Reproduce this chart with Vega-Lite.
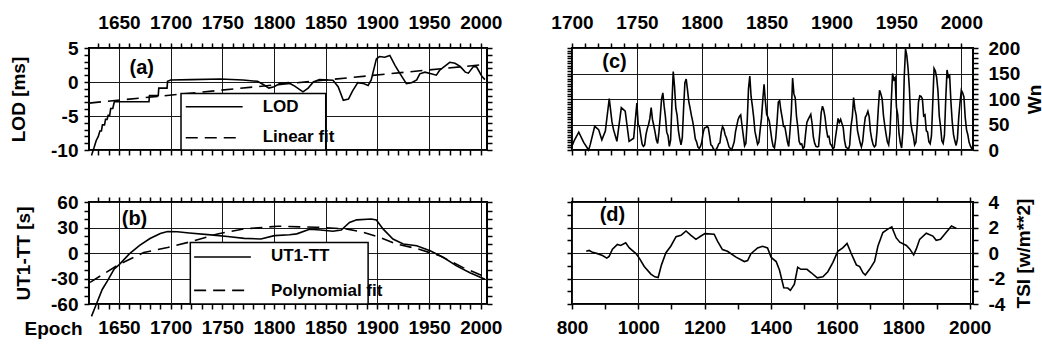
{
"$schema": "https://vega.github.io/schema/vega-lite/v6.json",
"columns": 2,
"spacing": {"row": 52, "column": 85},
"bounds": "flush",
"padding": {"left": 8, "top": 12, "right": 14, "bottom": 5},
"config": {
  "font": "Liberation Sans Narrow, Liberation Sans, sans-serif",
  "view": {"stroke": "black", "strokeWidth": 2},
  "axis": {"domain": false, "tickColor": "black", "tickWidth": 1.5, "tickSize": 5, "gridWidth": 1, "gridOpacity": 1,
    "labelFont": "Liberation Sans Narrow, Liberation Sans, sans-serif", "labelFontWeight": "bold", "labelFontSize": 19, "labelColor": "black",
    "titleFont": "Liberation Sans Narrow, Liberation Sans, sans-serif", "titleFontWeight": "bold", "titleFontSize": 19, "titleColor": "black",
    "labelFlush": false, "labelOverlap": false, "labelBound": false},
  "axisTop": {"labelPadding": 11},
  "axisBottom": {"labelPadding": 9},
  "axisLeft": {"labelPadding": 6, "titlePadding": 18},
  "axisRight": {"labelPadding": 10, "titlePadding": 20, "titleAngle": 270, "titleBaseline": "alphabetic"},
  "text": {"font": "Liberation Sans Narrow, Liberation Sans, sans-serif", "fontWeight": "bold", "color": "black"}
},
"datasets": {
  "lod": [{"x":1623.4,"y":-10.8},{"x":1626,"y":-9.6},{"x":1628,"y":-8.6},{"x":1630,"y":-8.0},{"x":1631.5,"y":-7.2},{"x":1633,"y":-7.2},{"x":1634,"y":-6.3},{"x":1636,"y":-6.3},{"x":1637,"y":-5.5},{"x":1638.5,"y":-5.5},{"x":1639.5,"y":-4.9},{"x":1641,"y":-4.9},{"x":1642,"y":-3.9},{"x":1644,"y":-3.9},{"x":1645.5,"y":-2.9},{"x":1679,"y":-2.9},{"x":1679.5,"y":-2.0},{"x":1688,"y":-2.0},{"x":1688.5,"y":-0.9},{"x":1696.5,"y":-0.9},{"x":1697,"y":0.1},{"x":1700,"y":0.3},{"x":1720,"y":0.35},{"x":1748,"y":0.45},{"x":1770,"y":0.3},{"x":1784,"y":0.1},{"x":1790,"y":-0.4},{"x":1795,"y":-0.9},{"x":1800,"y":-0.7},{"x":1806,"y":-0.2},{"x":1814,"y":-0.1},{"x":1820,"y":-0.6},{"x":1828,"y":-1.45},{"x":1833,"y":-0.9},{"x":1838,"y":0},{"x":1844,"y":0.35},{"x":1857,"y":0.25},{"x":1862,"y":-0.7},{"x":1867,"y":-2.7},{"x":1872,"y":-2.5},{"x":1876,"y":-1.3},{"x":1881,"y":-0.1},{"x":1886,"y":-0.2},{"x":1891,"y":-0.5},{"x":1894,"y":0.3},{"x":1899,"y":3.4},{"x":1902,"y":3.75},{"x":1907,"y":3.65},{"x":1912,"y":3.9},{"x":1917,"y":2.45},{"x":1922,"y":1.2},{"x":1928,"y":-0.25},{"x":1933,"y":-0.1},{"x":1938,"y":0.3},{"x":1941,"y":1.2},{"x":1946,"y":1.45},{"x":1952,"y":1.2},{"x":1957,"y":1.0},{"x":1960,"y":1.7},{"x":1964,"y":2.2},{"x":1970,"y":2.9},{"x":1975,"y":2.75},{"x":1980,"y":2.3},{"x":1985,"y":1.45},{"x":1988,"y":1.3},{"x":1993,"y":2.3},{"x":1996,"y":2.2},{"x":2001,"y":0.85},{"x":2004,"y":0.35}],
  "lodfit": [{"x":1621,"y":-3.1},{"x":2006,"y":2.61}],
  "ut1": [{"x":1623.4,"y":-74.6},{"x":1627.3,"y":-62.7},{"x":1633.8,"y":-42.9},{"x":1638.7,"y":-33},{"x":1645.2,"y":-19.1},{"x":1650,"y":-14},{"x":1660,"y":-1},{"x":1670,"y":9},{"x":1680,"y":17},{"x":1690,"y":23},{"x":1697,"y":25.2},{"x":1706.5,"y":25},{"x":1718,"y":23.6},{"x":1738.8,"y":21.3},{"x":1755,"y":19.5},{"x":1771.2,"y":17.2},{"x":1787.3,"y":16.5},{"x":1800.3,"y":20.4},{"x":1815,"y":21.5},{"x":1822,"y":22.5},{"x":1834.3,"y":28},{"x":1845,"y":27},{"x":1857,"y":25.6},{"x":1865,"y":27},{"x":1873,"y":36},{"x":1880,"y":39},{"x":1894,"y":40},{"x":1899,"y":38.8},{"x":1905.4,"y":28.4},{"x":1915,"y":16.5},{"x":1925,"y":10.5},{"x":1938,"y":8.5},{"x":1951,"y":2.6},{"x":1964,"y":-5.3},{"x":1976.5,"y":-15.2},{"x":1989.5,"y":-23.2},{"x":2004,"y":-31}],
  "poly": [{"x":1622,"y":-34.5},{"x":1650,"y":-13.5},{"x":1674,"y":0.6},{"x":1697,"y":6.5},{"x":1719.4,"y":13.3},{"x":1745.3,"y":22.4},{"x":1771.2,"y":28.4},{"x":1803.5,"y":31.5},{"x":1840.7,"y":30.3},{"x":1869.8,"y":28.4},{"x":1886,"y":24.4},{"x":1902.2,"y":18.4},{"x":1918.3,"y":10.5},{"x":1937.7,"y":5.4},{"x":1960.4,"y":-3.3},{"x":1983,"y":-17.2},{"x":2004,"y":-27.9}],
  "wn": [{"x":1700,"y":8},{"x":1702,"y":20},{"x":1705.2,"y":35},{"x":1709,"y":15},{"x":1712.8,"y":0},{"x":1714,"y":10},{"x":1717.5,"y":46.5},{"x":1720.5,"y":40},{"x":1723,"y":20},{"x":1725.7,"y":37},{"x":1728.7,"y":101},{"x":1730.8,"y":55},{"x":1732,"y":40},{"x":1734.6,"y":17},{"x":1738,"y":83},{"x":1741,"y":76},{"x":1744,"y":17},{"x":1747.5,"y":23},{"x":1750,"y":92},
    {"x":1751,"y":50},{"x":1752,"y":45},{"x":1753,"y":28},{"x":1754,"y":12},{"x":1755,"y":7},{"x":1756,"y":10},{"x":1757,"y":30},{"x":1758,"y":42},{"x":1759,"y":50},{"x":1760,"y":62},{"x":1761,"y":83},{"x":1762,"y":60},{"x":1763,"y":48},{"x":1764,"y":35},{"x":1765,"y":20},{"x":1766,"y":13},{"x":1767,"y":35},{"x":1768,"y":65},{"x":1769,"y":100},{"x":1770,"y":112},{"x":1771,"y":86},{"x":1772,"y":65},{"x":1773,"y":35},{"x":1774,"y":28},{"x":1775,"y":7},{"x":1776,"y":20},{"x":1777,"y":90},{"x":1778,"y":154},{"x":1779,"y":125},{"x":1780,"y":82},{"x":1781,"y":68},{"x":1782,"y":38},{"x":1783,"y":22},{"x":1784,"y":10},{"x":1785,"y":24},{"x":1786,"y":82},{"x":1787,"y":132},{"x":1788,"y":139},{"x":1789,"y":118},{"x":1790,"y":95},{"x":1791,"y":82},{"x":1792,"y":68},{"x":1793,"y":56},{"x":1794,"y":41},{"x":1795,"y":22},{"x":1796,"y":16},{"x":1797,"y":6},{"x":1798,"y":3},{"x":1799,"y":7},
    {"x":1800,"y":15},{"x":1801,"y":33},{"x":1802,"y":43},{"x":1803,"y":44},{"x":1804,"y":46},{"x":1805,"y":44},{"x":1806,"y":28},{"x":1807,"y":10},{"x":1808,"y":8},{"x":1809,"y":2},{"x":1810,"y":0},{"x":1811,"y":1},{"x":1812,"y":5},{"x":1813,"y":12},{"x":1814,"y":14},{"x":1815,"y":35},{"x":1816,"y":46},{"x":1817,"y":41},{"x":1818,"y":30},{"x":1819,"y":24},{"x":1820,"y":15},{"x":1821,"y":6},{"x":1822,"y":3},{"x":1823,"y":0},{"x":1824,"y":8},{"x":1825,"y":16},{"x":1826,"y":36},{"x":1827,"y":48},{"x":1828,"y":60},{"x":1829,"y":66},{"x":1830,"y":69},{"x":1831,"y":48},{"x":1832,"y":28},{"x":1833,"y":8},{"x":1834,"y":13},{"x":1835,"y":56},{"x":1836,"y":120},{"x":1837,"y":145},{"x":1838,"y":105},{"x":1839,"y":86},{"x":1840,"y":64},{"x":1841,"y":36},{"x":1842,"y":24},{"x":1843,"y":11},{"x":1844,"y":15},{"x":1845,"y":40},{"x":1846,"y":62},{"x":1847,"y":98},{"x":1848,"y":129},{"x":1849,"y":96},
    {"x":1850,"y":70},{"x":1851,"y":64},{"x":1852,"y":57},{"x":1853,"y":39},{"x":1854,"y":20},{"x":1855,"y":7},{"x":1856,"y":4},{"x":1857,"y":23},{"x":1858,"y":55},{"x":1859,"y":94},{"x":1860,"y":97},{"x":1861,"y":77},{"x":1862,"y":63},{"x":1863,"y":46},{"x":1864,"y":46},{"x":1865,"y":31},{"x":1866,"y":16},{"x":1867,"y":7},{"x":1868,"y":38},{"x":1869,"y":74},{"x":1870,"y":141},{"x":1871,"y":110},{"x":1872,"y":102},{"x":1873,"y":66},{"x":1874,"y":45},{"x":1875,"y":17},{"x":1876,"y":11},{"x":1877,"y":12},{"x":1878,"y":3},{"x":1879,"y":6},{"x":1880,"y":32},{"x":1881,"y":54},{"x":1882,"y":60},{"x":1883,"y":65},{"x":1884,"y":70},{"x":1885,"y":52},{"x":1886,"y":25},{"x":1887,"y":13},{"x":1888,"y":7},{"x":1889,"y":6},{"x":1890,"y":7},{"x":1891,"y":36},{"x":1892,"y":73},{"x":1893,"y":86},{"x":1894,"y":78},{"x":1895,"y":64},{"x":1896,"y":42},{"x":1897,"y":26},{"x":1898,"y":27},{"x":1899,"y":12},
    {"x":1900,"y":9},{"x":1901,"y":3},{"x":1902,"y":5},{"x":1903,"y":24},{"x":1904,"y":42},{"x":1905,"y":62},{"x":1906,"y":54},{"x":1907,"y":60},{"x":1908,"y":52},{"x":1909,"y":44},{"x":1910,"y":19},{"x":1911,"y":6},{"x":1912,"y":4},{"x":1913,"y":1},{"x":1914,"y":10},{"x":1915,"y":47},{"x":1916,"y":65},{"x":1917,"y":103},{"x":1918,"y":80},{"x":1919,"y":68},{"x":1920,"y":38},{"x":1921,"y":26},{"x":1922,"y":14},{"x":1923,"y":6},{"x":1924,"y":17},{"x":1925,"y":44},{"x":1926,"y":64},{"x":1927,"y":69},{"x":1928,"y":76},{"x":1929,"y":65},{"x":1930,"y":36},{"x":1931,"y":21},{"x":1932,"y":11},{"x":1933,"y":6},{"x":1934,"y":9},{"x":1935,"y":36},{"x":1936,"y":80},{"x":1937,"y":117},{"x":1938,"y":110},{"x":1939,"y":100},{"x":1940,"y":68},{"x":1941,"y":48},{"x":1942,"y":31},{"x":1943,"y":16},{"x":1944,"y":10},{"x":1945,"y":33},{"x":1946,"y":93},{"x":1947,"y":150},{"x":1948,"y":138},{"x":1949,"y":142},
    {"x":1950,"y":84},{"x":1951,"y":69},{"x":1952,"y":32},{"x":1953,"y":14},{"x":1954,"y":4},{"x":1955,"y":38},{"x":1956,"y":142},{"x":1957,"y":198},{"x":1958,"y":185},{"x":1959,"y":159},{"x":1960,"y":120},{"x":1961,"y":54},{"x":1962,"y":38},{"x":1963,"y":28},{"x":1964,"y":10},{"x":1965,"y":15},{"x":1966,"y":47},{"x":1967,"y":94},{"x":1968,"y":106},{"x":1969,"y":105},{"x":1970,"y":100},{"x":1971,"y":67},{"x":1972,"y":69},{"x":1973,"y":38},{"x":1974,"y":35},{"x":1975,"y":16},{"x":1976,"y":12},{"x":1977,"y":28},{"x":1978,"y":93},{"x":1979,"y":160},{"x":1980,"y":155},{"x":1981,"y":142},{"x":1982,"y":116},{"x":1983,"y":67},{"x":1984,"y":46},{"x":1985,"y":18},{"x":1986,"y":13},{"x":1987,"y":29},{"x":1988,"y":100},{"x":1989,"y":157},{"x":1990,"y":143},{"x":1991,"y":146},{"x":1992,"y":94},{"x":1993,"y":55},{"x":1994,"y":30},{"x":1995,"y":18},{"x":1996,"y":9},{"x":1997,"y":22},{"x":1998,"y":64},{"x":1999,"y":93},{"x":2000,"y":117},{"x":2001,"y":112},{"x":2002,"y":104},{"x":2003,"y":64},{"x":2004,"y":40},{"x":2005,"y":30},{"x":2006,"y":15},{"x":2007,"y":8},{"x":2008,"y":3},{"x":2009,"y":1}],
  "tsi": [{"x":843,"y":0.14},{"x":852,"y":0.2},{"x":862,"y":0.05},{"x":877,"y":-0.05},{"x":892,"y":-0.2},{"x":905,"y":-0.4},{"x":912,"y":-0.27},{"x":922,"y":0.3},{"x":937,"y":0.67},{"x":947,"y":0.59},{"x":962,"y":0.8},{"x":973,"y":0.4},{"x":993,"y":-0.05},{"x":1003,"y":-0.4},{"x":1018,"y":-1.06},{"x":1038,"y":-1.65},{"x":1050,"y":-1.87},{"x":1060,"y":-1.92},{"x":1070,"y":-0.93},{"x":1083,"y":0},{"x":1098,"y":0.53},{"x":1114,"y":1.28},{"x":1129,"y":1.39},{"x":1144,"y":1.73},{"x":1159,"y":1.39},{"x":1174,"y":1.07},{"x":1189,"y":1.33},{"x":1201,"y":1.52},{"x":1229,"y":1.47},{"x":1239,"y":0.93},{"x":1254,"y":0.27},{"x":1269,"y":0.13},{"x":1295,"y":-0.32},{"x":1320,"y":-0.67},{"x":1330,"y":-0.59},{"x":1340,"y":-0.05},{"x":1360,"y":0.4},{"x":1375,"y":0.53},{"x":1390,"y":0.4},{"x":1401,"y":-0.35},{"x":1416,"y":-0.67},{"x":1426,"y":-1.33},{"x":1439,"y":-2.72},{"x":1451,"y":-2.75},{"x":1459,"y":-2.93},{"x":1471,"y":-2.45},{"x":1481,"y":-1.12},{"x":1491,"y":-1.28},{"x":1509,"y":-1.28},{"x":1522,"y":-1.55},{"x":1540,"y":-1.95},{"x":1557,"y":-1.87},{"x":1572,"y":-1.47},{"x":1587,"y":-0.75},{"x":1602,"y":0.13},{"x":1617,"y":0.4},{"x":1630,"y":0.75},{"x":1642,"y":0},{"x":1658,"y":-0.93},{"x":1668,"y":-1.07},{"x":1678,"y":-1.55},{"x":1685,"y":-1.73},{"x":1698,"y":-1.28},{"x":1713,"y":-0.67},{"x":1723,"y":0.53},{"x":1738,"y":1.6},{"x":1753,"y":1.87},{"x":1765,"y":2.05},{"x":1778,"y":1.2},{"x":1789,"y":0.85},{"x":1809,"y":0.59},{"x":1819,"y":0.32},{"x":1831,"y":-0.15},{"x":1839,"y":0.32},{"x":1849,"y":1.07},{"x":1869,"y":1.55},{"x":1889,"y":1.33},{"x":1899,"y":1.0},{"x":1912,"y":1.07},{"x":1930,"y":1.65},{"x":1945,"y":2.12},{"x":1960,"y":1.92}],
  "legA_box": [{"x":1710,"x2":1850,"y":-10,"y2":-1.7}],
  "legA_lines": [{"x":1714.6,"x2":1769.6,"y":-3.65,"s":"solid"},{"x":1714.6,"x2":1769.6,"y":-8.2,"s":"dashed"}],
  "legA_text": [{"x":1789,"y":-3.7,"t":"LOD"},{"x":1789,"y":-8.1,"t":"Linear fit"}],
  "labA": [{"x":1672,"y":2.1,"t":"(a)"}],
  "legB_box": [{"x":1719,"x2":1891,"y":-60,"y2":12.5}],
  "legB_lines": [{"x":1722.7,"x2":1777.6,"y":-4.7,"s":"solid"},{"x":1722.7,"x2":1777.6,"y":-44,"s":"dashed"}],
  "legB_text": [{"x":1797,"y":-4,"t":"UT1-TT"},{"x":1797,"y":-45,"t":"Polynomial fit"}],
  "labB": [{"x":1665,"y":40.3,"t":"(b)"}],
  "labC": [{"x":1732.7,"y":172,"t":"(c)"}],
  "labD": [{"x":922,"y":3.0,"t":"(d)"}]
},
"concat": [
 {
  "width": 398, "height": 102,
  "resolve": {"axis": {"x": "independent", "y": "independent"}},
  "layer": [
   {"data": {"name": "lod"}, "mark": {"type": "line", "color": "black", "strokeWidth": 1.6, "clip": false},
    "encoding": {
     "x": {"field": "x", "type": "quantitative", "scale": {"domain": [1621, 2006], "nice": false, "zero": false},
       "axis": {"orient": "bottom", "values": [1630,1640,1650,1660,1670,1680,1690,1700,1710,1720,1730,1740,1750,1760,1770,1780,1790,1800,1810,1820,1830,1840,1850,1860,1870,1880,1890,1900,1910,1920,1930,1940,1950,1960,1970,1980,1990,2000], "labels": false, "grid": true, "gridColor": {"condition": {"test": "datum.value % 50 === 0", "value": "#1a1a1a"}, "value": "transparent"}, "title": null}},
     "y": {"field": "y", "type": "quantitative", "scale": {"domain": [-10, 5], "nice": false, "zero": false},
       "axis": {"orient": "left", "values": [-10,-9,-8,-7,-6,-5,-4,-3,-2,-1,0,1,2,3,4,5], "labelExpr": "datum.value % 5 === 0 ? '' + datum.value : ''", "grid": true, "gridColor": {"condition": {"test": "datum.value % 5 === 0", "value": "#1a1a1a"}, "value": "transparent"}, "title": "LOD [ms]", "titlePadding": 22}}
    }},
   {"data": {"name": "lodfit"}, "mark": {"type": "line", "color": "black", "strokeWidth": 1.6, "strokeDash": [12, 7], "clip": false},
    "encoding": {
     "x": {"field": "x", "type": "quantitative", "scale": {"domain": [1621, 2006], "nice": false, "zero": false},
       "axis": {"orient": "top", "values": [1630,1640,1650,1660,1670,1680,1690,1700,1710,1720,1730,1740,1750,1760,1770,1780,1790,1800,1810,1820,1830,1840,1850,1860,1870,1880,1890,1900,1910,1920,1930,1940,1950,1960,1970,1980,1990,2000], "labelExpr": "datum.value % 50 === 0 ? '' + datum.value : ''", "grid": false, "title": null}},
     "y": {"field": "y", "type": "quantitative", "scale": {"domain": [-10, 5], "nice": false, "zero": false},
       "axis": {"orient": "right", "values": [-10,-9,-8,-7,-6,-5,-4,-3,-2,-1,0,1,2,3,4,5], "labels": false, "grid": false, "title": null}}
    }},
   {"data": {"name": "legA_box"}, "mark": {"type": "rect", "fill": "white", "stroke": "black", "strokeWidth": 1.5},
    "encoding": {
     "x": {"field": "x", "type": "quantitative", "scale": {"domain": [1621, 2006], "nice": false, "zero": false}, "axis": null},
     "x2": {"field": "x2"},
     "y": {"field": "y", "type": "quantitative", "scale": {"domain": [-10, 5], "nice": false, "zero": false}, "axis": null},
     "y2": {"field": "y2"}
    }},
   {"data": {"name": "legA_lines"}, "mark": {"type": "rule", "color": "black", "strokeWidth": 1.6},
    "encoding": {
     "x": {"field": "x", "type": "quantitative", "scale": {"domain": [1621, 2006], "nice": false, "zero": false}, "axis": null},
     "x2": {"field": "x2"},
     "y": {"field": "y", "type": "quantitative", "scale": {"domain": [-10, 5], "nice": false, "zero": false}, "axis": null},
     "strokeDash": {"field": "s", "type": "nominal", "scale": {"domain": ["solid", "dashed"], "range": [[1, 0], [12, 7]]}, "legend": null}
    }},
   {"data": {"name": "legA_text"}, "mark": {"type": "text", "align": "left", "baseline": "middle", "fontSize": 17},
    "encoding": {
     "x": {"field": "x", "type": "quantitative", "scale": {"domain": [1621, 2006], "nice": false, "zero": false}, "axis": null},
     "y": {"field": "y", "type": "quantitative", "scale": {"domain": [-10, 5], "nice": false, "zero": false}, "axis": null},
     "text": {"field": "t"}
    }},
   {"data": {"name": "labA"}, "mark": {"type": "text", "align": "center", "baseline": "middle", "fontSize": 20},
    "encoding": {
     "x": {"field": "x", "type": "quantitative", "scale": {"domain": [1621, 2006], "nice": false, "zero": false}, "axis": null},
     "y": {"field": "y", "type": "quantitative", "scale": {"domain": [-10, 5], "nice": false, "zero": false}, "axis": null},
     "text": {"field": "t"}
    }}
  ]
 },
 {
  "width": 401, "height": 102,
  "resolve": {"axis": {"x": "independent", "y": "independent"}},
  "layer": [
   {"data": {"name": "wn"}, "mark": {"type": "line", "color": "black", "strokeWidth": 1.6, "clip": false},
    "encoding": {
     "x": {"field": "x", "type": "quantitative", "scale": {"domain": [1700, 2009], "nice": false, "zero": false},
       "axis": {"orient": "bottom", "values": [1700,1710,1720,1730,1740,1750,1760,1770,1780,1790,1800,1810,1820,1830,1840,1850,1860,1870,1880,1890,1900,1910,1920,1930,1940,1950,1960,1970,1980,1990,2000], "labels": false, "grid": true, "gridColor": {"condition": {"test": "datum.value % 50 === 0", "value": "#1a1a1a"}, "value": "transparent"}, "title": null}},
     "y": {"field": "y", "type": "quantitative", "scale": {"domain": [0, 200], "nice": false, "zero": false},
       "axis": {"orient": "left", "values": [0,5,10,15,20,25,30,35,40,45,50,55,60,65,70,75,80,85,90,95,100,105,110,115,120,125,130,135,140,145,150,155,160,165,170,175,180,185,190,195,200], "labels": false, "grid": true, "gridColor": {"condition": {"test": "datum.value % 50 === 0", "value": "#1a1a1a"}, "value": "transparent"}, "title": null}}
    }},
   {"data": {"name": "labC"}, "mark": {"type": "text", "align": "center", "baseline": "middle", "fontSize": 20},
    "encoding": {
     "x": {"field": "x", "type": "quantitative", "scale": {"domain": [1700, 2009], "nice": false, "zero": false},
       "axis": {"orient": "top", "values": [1700,1710,1720,1730,1740,1750,1760,1770,1780,1790,1800,1810,1820,1830,1840,1850,1860,1870,1880,1890,1900,1910,1920,1930,1940,1950,1960,1970,1980,1990,2000], "labelExpr": "datum.value % 50 === 0 ? '' + datum.value : ''", "grid": false, "title": null}},
     "y": {"field": "y", "type": "quantitative", "scale": {"domain": [0, 200], "nice": false, "zero": false},
       "axis": {"orient": "right", "values": [0,10,20,30,40,50,60,70,80,90,100,110,120,130,140,150,160,170,180,190,200], "labelExpr": "datum.value % 50 === 0 ? '' + datum.value : ''", "grid": false, "title": "Wn", "titlePadding": 21}},
     "text": {"field": "t"}
    }}
  ]
 },
 {
  "width": 398, "height": 102,
  "resolve": {"axis": {"x": "independent", "y": "independent"}},
  "layer": [
   {"data": {"name": "ut1"}, "mark": {"type": "line", "color": "black", "strokeWidth": 1.6, "clip": false},
    "encoding": {
     "x": {"field": "x", "type": "quantitative", "scale": {"domain": [1621, 2006], "nice": false, "zero": false},
       "axis": {"orient": "bottom", "values": [1630,1640,1650,1660,1670,1680,1690,1700,1710,1720,1730,1740,1750,1760,1770,1780,1790,1800,1810,1820,1830,1840,1850,1860,1870,1880,1890,1900,1910,1920,1930,1940,1950,1960,1970,1980,1990,2000], "labelExpr": "datum.value % 50 === 0 ? '' + datum.value : ''", "grid": true, "gridColor": {"condition": {"test": "datum.value % 50 === 0", "value": "#1a1a1a"}, "value": "transparent"},
         "title": "Epoch", "titleAnchor": "start", "titleAlign": "left", "titleBaseline": "alphabetic", "titleX": -65, "titleY": 30}},
     "y": {"field": "y", "type": "quantitative", "scale": {"domain": [-60, 60], "nice": false, "zero": false},
       "axis": {"orient": "left", "values": [-60,-50,-40,-30,-20,-10,0,10,20,30,40,50,60], "labelExpr": "datum.value % 30 === 0 ? '' + datum.value : ''", "grid": true, "gridColor": {"condition": {"test": "datum.value % 30 === 0", "value": "#1a1a1a"}, "value": "transparent"}, "title": "UT1-TT [s]", "titlePadding": 17}}
    }},
   {"data": {"name": "poly"}, "mark": {"type": "line", "color": "black", "strokeWidth": 1.6, "strokeDash": [12, 7], "clip": false},
    "encoding": {
     "x": {"field": "x", "type": "quantitative", "scale": {"domain": [1621, 2006], "nice": false, "zero": false},
       "axis": {"orient": "top", "values": [1630,1640,1650,1660,1670,1680,1690,1700,1710,1720,1730,1740,1750,1760,1770,1780,1790,1800,1810,1820,1830,1840,1850,1860,1870,1880,1890,1900,1910,1920,1930,1940,1950,1960,1970,1980,1990,2000], "labels": false, "grid": false, "title": null}},
     "y": {"field": "y", "type": "quantitative", "scale": {"domain": [-60, 60], "nice": false, "zero": false},
       "axis": {"orient": "right", "values": [-60,-50,-40,-30,-20,-10,0,10,20,30,40,50,60], "labels": false, "grid": false, "title": null}}
    }},
   {"data": {"name": "legB_box"}, "mark": {"type": "rect", "fill": "white", "stroke": "black", "strokeWidth": 1.5},
    "encoding": {
     "x": {"field": "x", "type": "quantitative", "scale": {"domain": [1621, 2006], "nice": false, "zero": false}, "axis": null},
     "x2": {"field": "x2"},
     "y": {"field": "y", "type": "quantitative", "scale": {"domain": [-60, 60], "nice": false, "zero": false}, "axis": null},
     "y2": {"field": "y2"}
    }},
   {"data": {"name": "legB_lines"}, "mark": {"type": "rule", "color": "black", "strokeWidth": 1.6},
    "encoding": {
     "x": {"field": "x", "type": "quantitative", "scale": {"domain": [1621, 2006], "nice": false, "zero": false}, "axis": null},
     "x2": {"field": "x2"},
     "y": {"field": "y", "type": "quantitative", "scale": {"domain": [-60, 60], "nice": false, "zero": false}, "axis": null},
     "strokeDash": {"field": "s", "type": "nominal", "scale": {"domain": ["solid", "dashed"], "range": [[1, 0], [12, 7]]}, "legend": null}
    }},
   {"data": {"name": "legB_text"}, "mark": {"type": "text", "align": "left", "baseline": "middle", "fontSize": 17},
    "encoding": {
     "x": {"field": "x", "type": "quantitative", "scale": {"domain": [1621, 2006], "nice": false, "zero": false}, "axis": null},
     "y": {"field": "y", "type": "quantitative", "scale": {"domain": [-60, 60], "nice": false, "zero": false}, "axis": null},
     "text": {"field": "t"}
    }},
   {"data": {"name": "labB"}, "mark": {"type": "text", "align": "center", "baseline": "middle", "fontSize": 20},
    "encoding": {
     "x": {"field": "x", "type": "quantitative", "scale": {"domain": [1621, 2006], "nice": false, "zero": false}, "axis": null},
     "y": {"field": "y", "type": "quantitative", "scale": {"domain": [-60, 60], "nice": false, "zero": false}, "axis": null},
     "text": {"field": "t"}
    }}
  ]
 },
 {
  "width": 401, "height": 102,
  "resolve": {"axis": {"x": "independent", "y": "independent"}},
  "layer": [
   {"data": {"name": "tsi"}, "mark": {"type": "line", "color": "black", "strokeWidth": 1.6, "clip": false},
    "encoding": {
     "x": {"field": "x", "type": "quantitative", "scale": {"domain": [800, 2010], "nice": false, "zero": false},
       "axis": {"orient": "bottom", "values": [800,900,1000,1100,1200,1300,1400,1500,1600,1700,1800,1900,2000], "labelExpr": "datum.value % 200 === 0 ? '' + datum.value : ''", "grid": true, "gridColor": {"condition": {"test": "datum.value % 200 === 0", "value": "#1a1a1a"}, "value": "transparent"}, "title": null}},
     "y": {"field": "y", "type": "quantitative", "scale": {"domain": [-4, 4], "nice": false, "zero": false},
       "axis": {"orient": "left", "values": [-4,-3,-2,-1,0,1,2,3,4], "labels": false, "grid": true, "gridColor": {"condition": {"test": "datum.value % 2 === 0", "value": "#1a1a1a"}, "value": "transparent"}, "title": null}}
    }},
   {"data": {"name": "labD"}, "mark": {"type": "text", "align": "center", "baseline": "middle", "fontSize": 20},
    "encoding": {
     "x": {"field": "x", "type": "quantitative", "scale": {"domain": [800, 2010], "nice": false, "zero": false},
       "axis": {"orient": "top", "values": [800,900,1000,1100,1200,1300,1400,1500,1600,1700,1800,1900,2000], "labels": false, "grid": false, "title": null}},
     "y": {"field": "y", "type": "quantitative", "scale": {"domain": [-4, 4], "nice": false, "zero": false},
       "axis": {"orient": "right", "values": [-4,-3,-2,-1,0,1,2,3,4], "labelExpr": "datum.value % 2 === 0 ? '' + datum.value : ''", "grid": false, "title": "TSI [w/m**2]", "titlePadding": 25}},
     "text": {"field": "t"}
    }}
  ]
 }
]
}
